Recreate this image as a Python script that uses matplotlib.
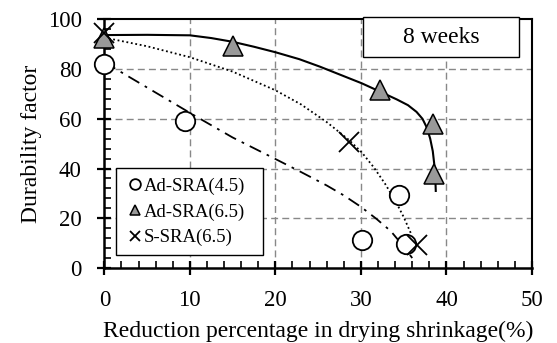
import matplotlib.pyplot as plt
from matplotlib.patches import Rectangle
from matplotlib.ticker import MultipleLocator

plt.rcParams['font.family'] = ['Liberation Serif', 'DejaVu Serif']

# measured points
ad45_x = [0, 9.4, 30.1, 34.4, 35.3]
ad45_y = [82, 59.2, 11.2, 29.5, 9.7]
ad65_x = [0, 15.1, 32.2, 38.4, 38.6]
ad65_y = [92.6, 89.5, 71.8, 57.8, 38]
s65_x = [0, 28.6, 36.5]
s65_y = [94.5, 50.8, 9.3]

# trend curves
fit45_x = [0, 5, 10.8, 15, 20.2, 23, 26, 28, 30, 31.8, 33.5, 35, 36]
fit45_y = [82.8, 72.6, 60.8, 52.5, 43.5, 38.6, 33.2, 29.2, 24.6, 19.8, 14.8, 8.6, 4]
fit65_x = [0, 5, 10, 12.5, 15, 17.5, 20, 22.8, 25.2, 30.1, 32.2, 34.2, 35.5,
           36.5, 37.2, 37.7, 38.1, 38.4, 38.6, 38.7, 38.75]
fit65_y = [93.7, 93.8, 93.6, 92.5, 91, 89, 86.8, 84, 81, 74.3, 71, 67.8, 65.5,
           62.8, 60, 56.5, 52, 47, 41, 36, 31]
fits_x = [0, 5, 10, 15, 20, 23, 26, 28.6, 30.1, 31.5, 32.8, 34, 35, 35.9]
fits_y = [92.7, 89.2, 84.8, 79, 71.5, 65.8, 58.7, 51.5, 46.5, 40.5, 34, 27.2,
          20.5, 13.5]

fig = plt.figure(figsize=(5.57, 3.43), dpi=100)
ax = fig.add_axes([0.1873, 0.2187, 0.7678, 0.7247])

ax.plot(fit45_x, fit45_y, color='black', lw=1.3, ls=(0, (7, 3.5, 1.5, 3.5)))
ax.plot(fit65_x, fit65_y, color='black', lw=1.5, ls='-')
ax.plot(fits_x, fits_y, color='black', lw=1.3, ls=(0, (1, 1.5)))

ax.plot(ad45_x, ad45_y, 'o', ms=14, mfc='white', mec='black', mew=1.3,
        label='Ad-SRA(4.5)', clip_on=False, zorder=4)
ax.plot(ad65_x, ad65_y, '^', ms=14, mfc='#999999', mec='black', mew=1.1,
        label='Ad-SRA(6.5)', clip_on=False, zorder=4)
ax.plot(s65_x, s65_y, 'x', ms=14, mec='black', mew=1.3,
        label='S-SRA(6.5)', clip_on=False, zorder=4)

ax.set_xlim(0, 50)
ax.set_ylim(0, 100)
ax.xaxis.set_major_locator(MultipleLocator(10))
ax.xaxis.set_minor_locator(MultipleLocator(2))
ax.yaxis.set_major_locator(MultipleLocator(20))
ax.yaxis.set_minor_locator(MultipleLocator(4))
ax.tick_params(which='major', direction='inout', length=9.5, width=1.6,
               labelsize=16.5, top=False, right=False)
ax.tick_params(axis='x', which='major', pad=11)
ax.tick_params(axis='y', which='major', pad=11.5)
ax.tick_params(which='minor', direction='in', length=5, width=1.2,
               top=False, right=False)
for side in ['left', 'bottom']:
    ax.spines[side].set_linewidth(1.8)
for side in ['top', 'right']:
    ax.spines[side].set_linewidth(1.5)

for v in [10, 20, 30, 40]:
    ax.axvline(v, color='#888888', ls=(0, (5, 3)), lw=1.0, zorder=0)
for v in [20, 40, 60, 80]:
    ax.axhline(v, color='#888888', ls=(0, (5, 3)), lw=1.0, zorder=0)

ax.set_xlabel('Reduction percentage in drying shrinkage(%)', fontsize=17, labelpad=7.5)
ax.set_ylabel('Durability factor', fontsize=17, labelpad=4.5)

# legend frame drawn as a plain box
ax.add_patch(Rectangle((0.0274, 0.0523), 0.344, 0.35, transform=ax.transAxes,
                       fc='white', ec='black', lw=1.0, zorder=5))
leg = ax.legend(loc='center', bbox_to_anchor=(0.195, 0.225), fontsize=13.5,
                markerscale=0.55, handlelength=0.5, handletextpad=0.2,
                borderpad=0.0, labelspacing=0.45, frameon=False)
leg.set_zorder(6)

ax.add_patch(Rectangle((0.605, 0.849), 0.365, 0.161, transform=ax.transAxes,
                       fc='white', ec='black', lw=1.0, zorder=5, clip_on=False))
ax.text(0.7875, 0.929, '8 weeks', transform=ax.transAxes, fontsize=17,
        ha='center', va='center', zorder=6)

fig.savefig('out.png', dpi=100)
